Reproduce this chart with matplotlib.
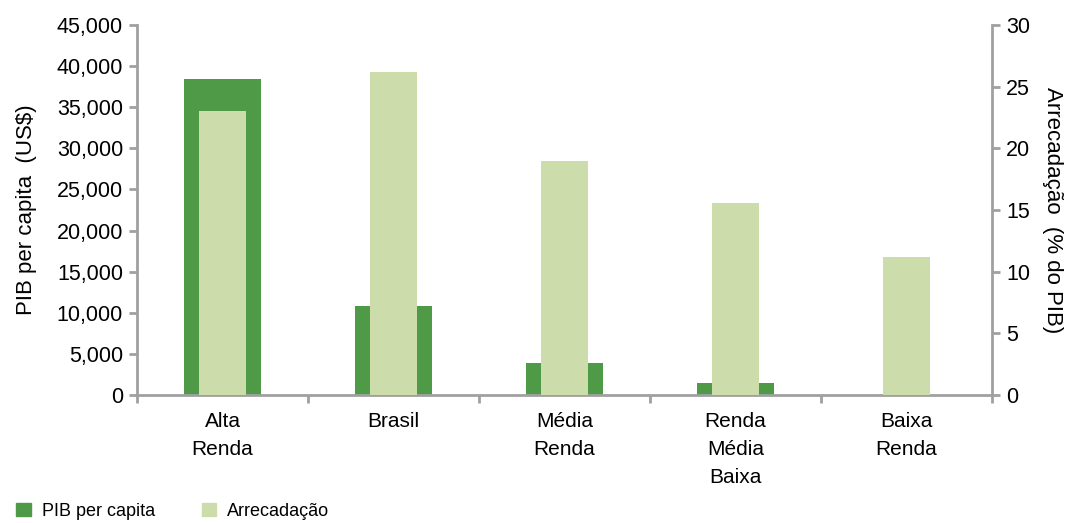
import matplotlib
matplotlib.use("Agg")
import matplotlib.pyplot as plt
import numpy as np
from matplotlib.ticker import FuncFormatter, FixedLocator
from matplotlib.patches import Patch

plt.rcParams['font.family'] = ['Liberation Sans Narrow', 'Liberation Sans', 'DejaVu Sans']

categories = ["Alta\nRenda", "Brasil", "Média\nRenda", "Renda\nMédia\nBaixa", "Baixa\nRenda"]
pib_per_capita = [38400, 10800, 3850, 1500, 0]
arrecadacao = [23.0, 26.2, 19.0, 15.6, 11.2]

dark = "#4f9a47"
light = "#cddcab"
axis_gray = "#a0a0a0"

fig = plt.figure(figsize=(10.72, 5.23), dpi=100)
ax = fig.add_axes([137/1072, 1-395/523, (992-137)/1072, (395-25)/523])
ax2 = ax.twinx()

x = np.arange(len(categories))
ax.bar(x, pib_per_capita, width=0.445, color=dark, zorder=2)
ax2.bar(x, arrecadacao, width=0.28, color=light, zorder=3)

ax.set_xlim(-0.5, len(categories) - 0.5)
ax.set_ylim(0, 45000)
ax2.set_ylim(0, 30)
ax.set_yticks(np.arange(0, 45001, 5000))
ax2.set_yticks(np.arange(0, 31, 5))
ax.yaxis.set_major_formatter(FuncFormatter(lambda v, p: f"{int(v):,}"))

ax.set_xticks(x)
ax.set_xticklabels(categories, fontsize=15, linespacing=1.6)
ax.xaxis.set_minor_locator(FixedLocator(np.arange(-0.5, len(categories), 1.0)))
ax.tick_params(axis='x', which='major', length=0, pad=12)
ax.tick_params(axis='x', which='minor', length=6, width=2, color=axis_gray, direction='out')

for a in (ax, ax2):
    a.spines['top'].set_visible(False)
    a.tick_params(axis='y', labelsize=15.5, length=6, width=2, color=axis_gray, pad=4)
ax.spines['right'].set_visible(False)
ax2.spines['left'].set_visible(False)
ax2.spines['bottom'].set_visible(False)
ax.spines['left'].set_color(axis_gray)
ax.spines['left'].set_linewidth(2)
ax.spines['bottom'].set_color(axis_gray)
ax.spines['bottom'].set_linewidth(2)
ax2.spines['right'].set_color(axis_gray)
ax2.spines['right'].set_linewidth(2)

ax.set_ylabel("PIB per capita  (US$)", fontsize=16, labelpad=14)
ax2.set_ylabel("Arrecadação  (% do PIB)", fontsize=16, rotation=270, labelpad=24)

handles = [Patch(color=dark, label="PIB per capita"), Patch(color=light, label="Arrecadação")]
fig.legend(handles=handles, loc='lower left', bbox_to_anchor=(0.0, -0.025), ncol=2,
           frameon=False, fontsize=13, handlelength=0.8, handleheight=0.8,
           handletextpad=0.6, columnspacing=2.6)

fig.savefig("out.png", dpi=100)
